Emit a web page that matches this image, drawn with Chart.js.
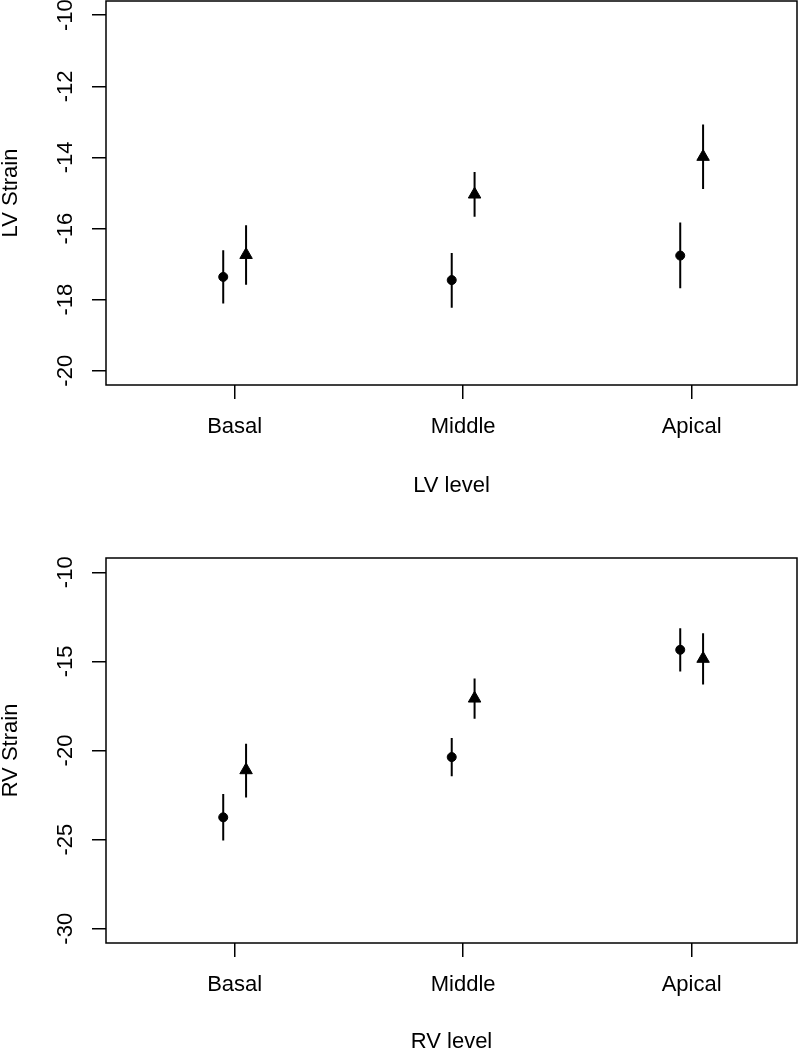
<!DOCTYPE html>
<html>
<head>
<meta charset="utf-8">
<script src="https://cdn.jsdelivr.net/npm/chart.js@4/dist/chart.umd.min.js"></script>
<style>
  html, body { margin: 0; padding: 0; background: #fff; overflow: hidden; }
  #wrap { position: relative; width: 798px; height: 1049px; }
  canvas { position: absolute; left: 0; }
  #c1 { top: 0; }
  #c2 { top: 525px; }
</style>
</head>
<body>
<div id="wrap">
  <canvas id="c1" width="798" height="524"></canvas>
  <canvas id="c2" width="798" height="524"></canvas>
</div>
<script>
// ---------------- DATA ----------------
const categories = ["Basal", "Middle", "Apical"];

// LV panel
const lvCircleMean = [-17.36, -17.45, -16.76];
const lvCircleHigh = [-16.61, -16.69, -15.83];
const lvCircleLow  = [-18.11, -18.23, -17.68];
const lvTriMean    = [-16.74, -15.04, -13.98];
const lvTriHigh    = [-15.91, -14.41, -13.07];
const lvTriLow     = [-17.58, -15.67, -14.89];
const lvTicks = [-20, -18, -16, -14, -12, -10];

// RV panel
const rvCircleMean = [-23.75, -20.37, -14.35];
const rvCircleHigh = [-22.44, -19.30, -13.14];
const rvCircleLow  = [-25.05, -21.45, -15.57];
const rvTriMean    = [-21.10, -17.08, -14.85];
const rvTriHigh    = [-19.62, -15.96, -13.42];
const rvTriLow     = [-22.63, -18.22, -16.30];
const rvTicks = [-30, -25, -20, -15, -10];

// ---------------- STYLE ----------------
const FONT = "'Liberation Sans', Arial, Helvetica, sans-serif";
const OFFSET = 0.05;   // horizontal dodge of the two groups
const INK = '#000';

const boxPlugin = {
  id: 'box',
  beforeDatasetsDraw(chart) {
    const a = chart.chartArea, ctx = chart.ctx;
    ctx.save();
    ctx.strokeStyle = INK;
    ctx.lineWidth = 1.5;
    ctx.strokeRect(a.left, a.top, a.right - a.left, a.bottom - a.top);
    ctx.restore();
  }
};

function points(means, shift) {
  return means.map((v, i) => ({ x: i + 1 + shift, y: v }));
}
function bars(lows, highs, shift) {
  const out = [];
  lows.forEach((lo, i) => {
    out.push({ x: i + 1 + shift, y: lo });
    out.push({ x: i + 1 + shift, y: highs[i] });
    out.push({ x: i + 1 + shift, y: null });
  });
  return out;
}

function makeChart(id, cfg) {
  return new Chart(document.getElementById(id), {
    type: 'scatter',
    data: {
      datasets: [
        { data: bars(cfg.cLow, cfg.cHigh, -OFFSET), showLine: true, spanGaps: false,
          borderColor: INK, borderWidth: 2, pointRadius: 0, order: 3 },
        { data: bars(cfg.tLow, cfg.tHigh, OFFSET), showLine: true, spanGaps: false,
          borderColor: INK, borderWidth: 2, pointRadius: 0, order: 3 },
        { data: points(cfg.cMean, -OFFSET), pointStyle: 'circle', pointRadius: 4.5,
          backgroundColor: INK, borderColor: INK, borderWidth: 1, order: 1 },
        { data: points(cfg.tMean, OFFSET), pointStyle: 'triangle', pointRadius: 7.2,
          backgroundColor: INK, borderColor: INK, borderWidth: 1, order: 1 }
      ]
    },
    plugins: [boxPlugin],
    options: {
      responsive: false,
      devicePixelRatio: 1,
      animation: false,
      events: [],
      layout: { autoPadding: false, padding: { top: cfg.padTop, right: 1, left: 0, bottom: 0 } },
      plugins: { legend: { display: false }, tooltip: { enabled: false } },
      scales: {
        x: {
          type: 'linear',
          min: 0.437, max: 3.461,
          afterBuildTicks: (s) => { s.ticks = categories.map((c, i) => ({ value: i + 1 })); },
          afterFit: (s) => { s.height = cfg.xHeight; s.paddingLeft = 0; s.paddingRight = 0; },
          border: { display: false },
          grid: { drawOnChartArea: false, drawTicks: true, tickLength: 14, color: INK, lineWidth: 1.5 },
          ticks: {
            color: INK, padding: 15, maxRotation: 0, minRotation: 0, autoSkip: false,
            font: { family: FONT, size: 22 },
            callback: (v) => categories[Math.round(v) - 1]
          },
          title: {
            display: true, text: cfg.xTitle, color: INK,
            font: { family: FONT, size: 22, lineHeight: 1 },
            padding: { top: 0, bottom: cfg.xTitlePad }
          }
        },
        y: {
          type: 'linear',
          min: cfg.yMin, max: cfg.yMax,
          afterBuildTicks: (s) => { s.ticks = cfg.yTicks.map(v => ({ value: v })); },
          afterFit: (s) => { s.width = 106; s.paddingTop = 0; s.paddingBottom = 0; },
          border: { display: false },
          grid: { drawOnChartArea: false, drawTicks: true, tickLength: 14, color: INK, lineWidth: 1.5 },
          ticks: {
            color: INK, padding: 10, minRotation: 90, maxRotation: 90, crossAlign: 'center',
            font: { family: FONT, size: 22 },
            callback: (v) => String(v)
          },
          title: {
            display: true, text: cfg.yTitle, color: INK,
            font: { family: FONT, size: 22, lineHeight: 1 },
            padding: { top: 0, bottom: 0 }
          }
        }
      }
    }
  });
}

makeChart('c1', {
  cMean: lvCircleMean, cHigh: lvCircleHigh, cLow: lvCircleLow,
  tMean: lvTriMean, tHigh: lvTriHigh, tLow: lvTriLow,
  yMin: -20.4, yMax: -9.6, yTicks: lvTicks,
  xTitle: 'LV level', yTitle: 'LV Strain',
  padTop: 1, xHeight: 139, xTitlePad: 27
});

makeChart('c2', {
  cMean: rvCircleMean, cHigh: rvCircleHigh, cLow: rvCircleLow,
  tMean: rvTriMean, tHigh: rvTriHigh, tLow: rvTriLow,
  yMin: -30.8, yMax: -9.2, yTicks: rvTicks,
  xTitle: 'RV level', yTitle: 'RV Strain',
  padTop: 33, xHeight: 106, xTitlePad: -4
});
</script>
</body>
</html>
